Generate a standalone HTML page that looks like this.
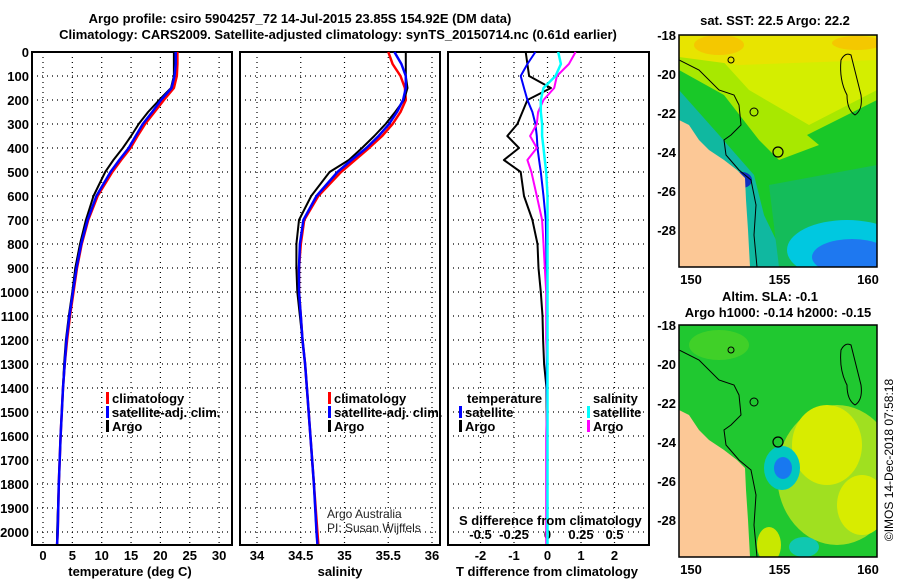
<!DOCTYPE html>
<html><head><meta charset="utf-8">
<style>
html,body{margin:0;padding:0;background:#fff;}
svg{display:block;font-family:"Liberation Sans",sans-serif;}
.b{font-weight:bold;font-size:13px;}
</style></head>
<body>
<svg id="c" width="900" height="580" viewBox="0 0 900 580" xmlns="http://www.w3.org/2000/svg">
<text class="b" x="300" y="23" text-anchor="middle" font-size="14">Argo profile: csiro 5904257_72 14-Jul-2015 23.85S 154.92E (DM data)</text>
<text class="b" x="338" y="39" text-anchor="middle" font-size="14">Climatology: CARS2009. Satellite-adjusted climatology: synTS_20150714.nc (0.61d earlier)</text>
<g id="plots"></g>
<g id="maps"></g>
<text class="b" x="775" y="25" text-anchor="middle" font-size="12">sat. SST: 22.5 Argo: 22.2</text>
<text class="b" x="770" y="301" text-anchor="middle" font-size="12">Altim. SLA: -0.1</text>
<text class="b" x="778" y="317" text-anchor="middle" font-size="12">Argo h1000: -0.14 h2000: -0.15</text>
<text x="893" y="460" font-size="12" text-anchor="middle" transform="rotate(-90 893 460)">©IMOS 14-Dec-2018 07:58:18</text>
</svg>
<script>
// ---- data ----
const depths = [0,50,100,150,200,250,300,350,400,450,500,600,700,800,900,1000,1100,1200,1300,1400,1600,1800,2000,2050];
const tempClim = [22.9,22.9,22.8,22.3,20.6,19.0,17.4,16.1,14.9,13.3,11.8,9.3,7.7,6.6,5.8,5.2,4.6,4.1,3.7,3.4,3.0,2.7,2.5,2.4];
const tempSat  = [22.6,22.6,22.4,21.9,20.1,18.6,17.0,15.8,14.6,13.0,11.5,9.1,7.6,6.5,5.7,5.1,4.5,4.0,3.7,3.4,3.0,2.7,2.5,2.4];
const tempArgo = [22.3,22.3,22.3,21.8,19.8,17.9,16.3,15.0,13.6,12.0,10.6,8.6,7.3,6.3,5.5,5.0,4.4,3.9,3.6,3.4,3.0,2.7,2.4,2.4];
const salClim = [35.50,35.55,35.64,35.69,35.70,35.64,35.55,35.43,35.28,35.12,34.96,34.70,34.54,34.50,34.48,34.48,34.50,34.52,34.55,34.57,34.61,34.65,34.69,34.70];
const salSat  = [35.57,35.65,35.70,35.70,35.67,35.60,35.51,35.39,35.25,35.08,34.92,34.68,34.53,34.49,34.48,34.48,34.50,34.52,34.55,34.57,34.61,34.65,34.68,34.69];
const salArgo = [35.70,35.70,35.70,35.72,35.68,35.58,35.47,35.34,35.20,35.05,34.83,34.62,34.48,34.45,34.45,34.46,34.49,34.52,34.55,34.57,34.61,34.65,34.68,34.69];
const dTSat  = [-0.36,-0.6,-0.8,-0.7,-0.6,-0.45,-0.36,-0.32,-0.3,-0.25,-0.2,-0.12,-0.05,-0.04,-0.03,-0.03,-0.02,-0.02,-0.02,-0.02,-0.01,-0.01,-0.01,-0.01];
const dTArgo = [-0.65,-0.6,-0.55,0.1,-0.6,-0.75,-0.9,-1.2,-0.85,-1.3,-0.8,-0.7,-0.45,-0.3,-0.27,-0.2,-0.15,-0.13,-0.1,-0.03,-0.02,-0.02,-0.02,-0.02];
const dSSat  = [0.08,0.1,0.06,-0.03,-0.05,-0.05,-0.04,-0.04,-0.03,-0.02,-0.01,0,0,0,0,0,0,0,0,0,0,0,0,0];
const dSArgo = [0.21,0.16,0.07,0.05,-0.03,-0.07,-0.08,-0.13,-0.08,-0.15,-0.12,-0.08,-0.04,-0.03,-0.02,-0.01,-0.01,-0.01,0,0,-0.01,-0.01,-0.01,-0.01];
const depthTicks = [0,100,200,300,400,500,600,700,800,900,1000,1100,1200,1300,1400,1500,1600,1700,1800,1900,2000];
const tempTicks = [0,5,10,15,20,25,30];
const salTicks = [34,34.5,35,35.5,36];
const dTTicks = [-2,-1,0,1,2];
const dSTicks = [-0.5,-0.25,0,0.25,0.5];
const dSTickLabels = ["-0.5","-0.25","0","0.25","0.5"];

const NS="http://www.w3.org/2000/svg";
const P=document.getElementById('plots');
function mk(tag,at,parent){const e=document.createElementNS(NS,tag);for(const k in at)e.setAttribute(k,at[k]);(parent||P).appendChild(e);return e;}
const TOP=52,BOT=545;
const yD=d=>TOP+d*0.24;
const xT=v=>43+v*5.87;
const xS=v=>257+(v-34)*87.5;
const xDT=v=>547.5+v*33.5;
const xDS=v=>547.5+v*134;

const panels=[{l:32,r:232,ticks:tempTicks,f:xT,lab:tempTicks.map(String),name:'temperature'},
 {l:240,r:440,ticks:salTicks,f:xS,lab:salTicks.map(String),name:'salinity'},
 {l:448,r:649,ticks:dTTicks,f:xDT,lab:dTTicks.map(String),name:'difference'}];
panels.forEach(p=>{
  const g=mk('g',{});
  
  
  depthTicks.forEach(d=>{const l=mk('line',{x1:p.l,x2:p.r,y1:yD(d),y2:yD(d),stroke:'#000','stroke-dasharray':'1 4','stroke-width':1.2},g);
    
    });
  p.ticks.forEach((t,i)=>{const x=p.f(t);const l=mk('line',{x1:x,x2:x,y1:TOP,y2:BOT,stroke:'#000','stroke-dasharray':'1 4','stroke-width':1.2},g);
    
    
    const tx=mk('text',{x:x,y:560,'text-anchor':'middle',class:'b'},g);tx.textContent=p.lab[i];
    
    });
  const r=mk('rect',{x:p.l,y:TOP,width:p.r-p.l,height:BOT-TOP,fill:'none',stroke:'#000','stroke-width':2},g);
  
  
});
depthTicks.forEach(d=>{const t=mk('text',{x:29,y:yD(d)+5,'text-anchor':'end',class:'b'});t.textContent=d;
  
  });
dSTicks.forEach((v,i)=>{const t=mk('text',{x:xDS(v),y:539,'text-anchor':'middle',class:'b'});t.textContent=dSTickLabels[i];
  
  });

function line(xs,f,color,w,name){
  const pts=depths.map((d,i)=>f(xs[i]).toFixed(1)+','+yD(d).toFixed(1)).join(' ');
  const e=mk('polyline',{points:pts,fill:'none',stroke:color,'stroke-width':w,'stroke-linejoin':'round'});
  
  
}
line(tempClim,xT,'#f00',2.5,'temp-climatology-line');
line(tempArgo,xT,'#000',2,'temp-argo-line');
line(tempSat,xT,'#00f',2.5,'temp-satellite-line');
line(salClim,xS,'#f00',2.5,'sal-climatology-line');
line(salArgo,xS,'#000',2,'sal-argo-line');
line(salSat,xS,'#00f',2.5,'sal-satellite-line');
line(dTArgo,xDT,'#000',2,'tdiff-argo-line');
line(dTSat,xDT,'#00f',2,'tdiff-satellite-line');
line(dSArgo,xDS,'#f0f',2,'sdiff-argo-line');
line(dSSat,xDS,'#0ff',2.5,'sdiff-satellite-line');

function leg(x,y,color,label,name){
  const r=mk('rect',{x:x,y:y-11,width:3,height:12,fill:color});
  
  
  const t=mk('text',{x:x+6,y:y,class:'b'});t.textContent=label;
  
  
}
leg(106,403,'#f00','climatology','legend-climatology');
leg(106,417,'#00f','satellite-adj. clim.','legend-satellite-adj');
leg(106,431,'#000','Argo','legend-argo');
leg(328,403,'#f00','climatology','legend-sal-climatology');
leg(328,417,'#00f','satellite-adj. clim.','legend-sal-satellite-adj');
leg(328,431,'#000','Argo','legend-sal-argo');
leg(459,417,'#00f','satellite','legend-t-satellite');
leg(459,431,'#000','Argo','legend-t-argo');
leg(587,417,'#0ff','satellite','legend-s-satellite');
leg(587,431,'#f0f','Argo','legend-s-argo');
function txt(x,y,s,cls,name,extra){const t=mk('text',Object.assign({x:x,y:y},extra||{}));if(cls)t.setAttribute('class',cls);t.textContent=s;
  
  return t;}
txt(467,403,'temperature','b','legend-temperature-heading');
txt(593,403,'salinity','b','legend-salinity-heading');
txt(459,525,'S difference from climatology','b','s-diff-axis-title');
txt(130,576,'temperature (deg C)','b','x-axis-title-temperature',{'text-anchor':'middle'});
txt(340,576,'salinity','b','x-axis-title-salinity',{'text-anchor':'middle'});
txt(547,576,'T difference from climatology','b','x-axis-title-tdiff',{'text-anchor':'middle'});
txt(327,518,'Argo Australia','', 'credit-argo-australia',{'font-size':12,fill:'#222'});
txt(327,532,'PI: Susan Wijffels','', 'credit-pi',{'font-size':12,fill:'#222'});

// ---- maps ----
const M=document.getElementById('maps');
function map(top,kind){
  const L=679,R=877,H=232,W=R-L;
  const g=mk('g',{},M);
  
  
  const id='clip'+top;
  const cp=mk('clipPath',{id:id},g);mk('rect',{x:L,y:top,width:W,height:H},cp);
  const gi=mk('g',{'clip-path':'url(#'+id+')'},g);
  if(kind==='sst'){
    mk('rect',{x:L,y:top,width:W,height:H,fill:'#19c828'},gi);
    mk('polygon',{points:`${L},${top} ${R},${top} ${R},${top+65} ${R-70},${top+100} ${L+140},${top+110} ${L+100},${top+125} ${L+80},${top+105} ${L+45},${top+60} ${L},${top+35}`,fill:'#a8e800'},gi);
    mk('polygon',{points:`${L+20},${top} ${R},${top} ${R},${top+55} ${L+130},${top+90} ${L+70},${top+55}`,fill:'#d4ee00'},gi);
    mk('polygon',{points:`${L},${top} ${R},${top} ${R},${top+25} ${L+60},${top+30} ${L},${top+22}`,fill:'#e8e400'},gi);
    mk('ellipse',{cx:L+40,cy:top+10,rx:25,ry:10,fill:'#f4c800'},gi);
    mk('ellipse',{cx:R-20,cy:top+8,rx:25,ry:7,fill:'#f4c800'},gi);
    mk('polygon',{points:`${L},${top+55} ${L+40},${top+100} ${L+75},${top+140} ${L+85},${top+180} ${L+110},${top+232} ${L},${top+232}`,fill:'#10b8a0'},gi);
    mk('polygon',{points:`${L+90},${top+150} ${R},${top+130} ${R},${top+232} ${L+100},${top+232}`,fill:'#14bc5a'},gi);
    mk('ellipse',{cx:R-30,cy:top+215,rx:60,ry:30,fill:'#00c8e0'},gi);
    mk('ellipse',{cx:R-25,cy:top+222,rx:40,ry:18,fill:'#1e78f0'},gi);
    mk('ellipse',{cx:L+63,cy:top+145,rx:10,ry:8,fill:'#1030c0'},gi);
  } else {
    mk('rect',{x:L,y:top,width:W,height:H,fill:'#20c830'},gi);
    mk('ellipse',{cx:R-40,cy:top+150,rx:60,ry:70,fill:'#a0e020'},gi);
    mk('ellipse',{cx:R-50,cy:top+120,rx:35,ry:40,fill:'#d8ec00'},gi);
    mk('ellipse',{cx:R-15,cy:top+180,rx:25,ry:30,fill:'#d8ec00'},gi);
    mk('ellipse',{cx:L+40,cy:top+20,rx:30,ry:15,fill:'#40d028'},gi);
    mk('ellipse',{cx:L+103,cy:top+143,rx:18,ry:22,fill:'#00c8c0'},gi);
    mk('ellipse',{cx:L+104,cy:top+143,rx:9,ry:11,fill:'#1878f0'},gi);
    mk('ellipse',{cx:L+125,cy:top+222,rx:15,ry:10,fill:'#10c8b0'},gi);
    mk('ellipse',{cx:L+90,cy:top+220,rx:12,ry:18,fill:'#c8e800'},gi);
  }
  const land=[[0,85],[10,90],[20,105],[30,115],[45,125],[58,135],[66,143],[67,165],[69,195],[71,232],[0,232]];
  mk('polygon',{points:land.map(p=>(L+p[0])+','+(top+p[1])).join(' '),fill:'#fcc896'},gi);
  const shelf=[[0,25],[20,35],[40,55],[55,60],[60,70],[62,90],[52,100],[45,105],[47,120],[60,135],[72,145],[77,170],[75,200],[78,232]];
  mk('polyline',{points:shelf.map(p=>(L+p[0])+','+(top+p[1])).join(' '),fill:'none',stroke:'#000','stroke-width':1},gi);
  mk('path',{d:`M${L+162},${top+25} q4,-8 10,-5 q5,20 10,40 q2,15 -6,20 q-8,-5 -8,-20 q-8,-15 -6,-35z`,fill:'none',stroke:'#000','stroke-width':1},gi);
  mk('circle',{cx:L+99,cy:top+117,r:5,fill:'none',stroke:'#000','stroke-width':1.2},gi);
  mk('circle',{cx:L+52,cy:top+25,r:3,fill:'none',stroke:'#000'},gi);
  mk('circle',{cx:L+75,cy:top+77,r:4,fill:'none',stroke:'#000'},gi);
  const fr=mk('rect',{x:L,y:top,width:W,height:H,fill:'none',stroke:'#000','stroke-width':1.5},g);
  
  
  [-18,-20,-22,-24,-26,-28].forEach((lat,i)=>{
    const t=mk('text',{x:676,y:top+i*39+5,'text-anchor':'end',class:'b'},g);t.textContent=lat;
    
    
  });
  [150,155,160].forEach(lon=>{
    const x=691+(lon-150)*17.7;
    const t=mk('text',{x:x,y:top+H+17,'text-anchor':'middle',class:'b'},g);t.textContent=lon;
    
    
  });
}
map(35,'sst');
map(325,'sla');
</script>
</body></html>
